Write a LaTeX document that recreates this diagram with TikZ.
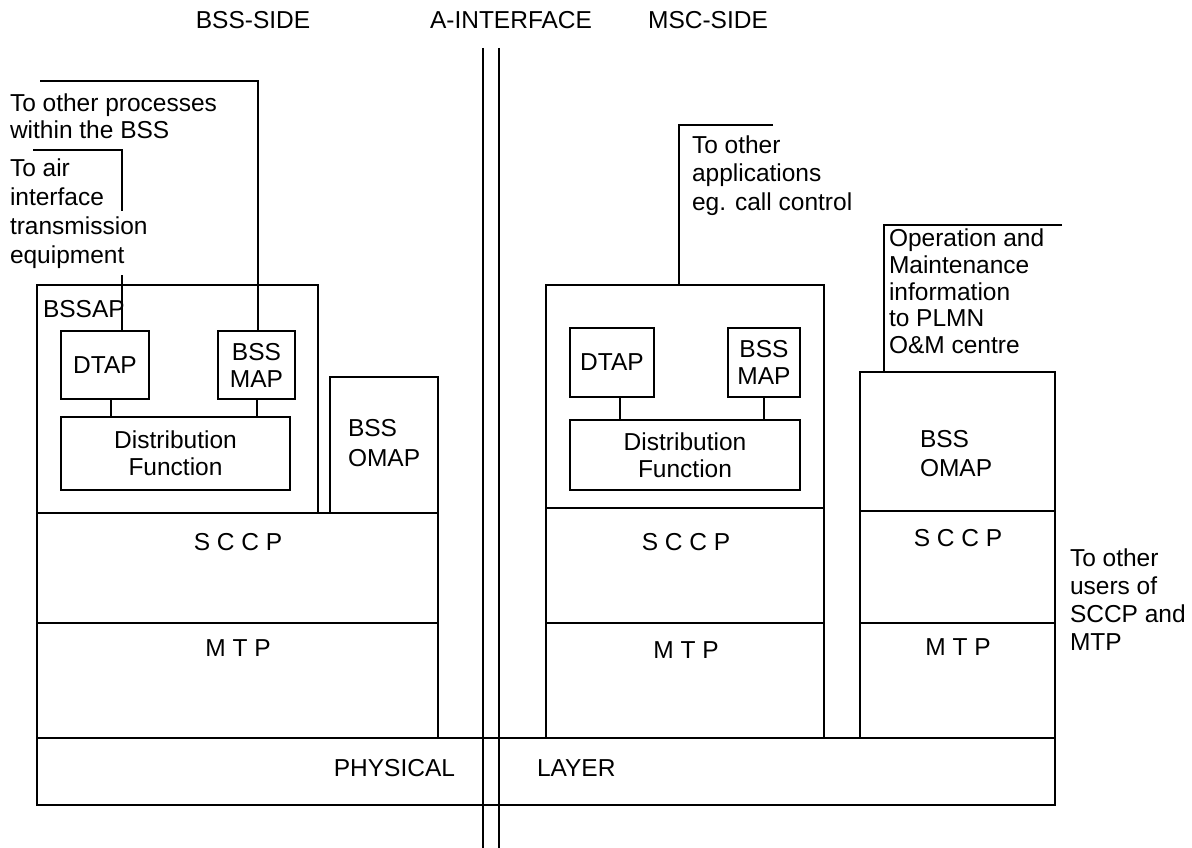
\documentclass[tikz,border=0pt]{standalone}
\usepackage{fontspec}
\setmainfont{Liberation Sans}
\begin{document}
\begin{tikzpicture}[x=1pt,y=-1pt,
  lbl/.style={font=\fontsize{24.5}{28}\selectfont, inner sep=0pt, outer sep=0pt},
  txt/.style={lbl, align=left, anchor=base west},
  box/.style={draw, line width=1.4pt, inner sep=0pt, outer sep=0pt, anchor=north west,
              font=\fontsize{24.5}{27}\selectfont, align=center},
  frame/.style={draw, line width=1.4pt, inner sep=0pt, outer sep=0pt, anchor=north west},
  thickln/.style={line width=2.8pt},
  conn/.style={line width=2pt},
  iface/.style={line width=2.8pt}]
\useasboundingbox (0,0) rectangle (1192,848);

% top labels
\node[lbl, anchor=base] (bssside) at (253,28.5) {BSS-SIDE};
\node[lbl, anchor=base] (aif) at (511,28.5) {A-INTERFACE};
\node[lbl, anchor=base] (mscside) at (708,28.5) {MSC-SIDE};

% ---------- BSS side ----------
\node[frame, minimum width=281pt, minimum height=228pt] (bssapL) at (37,285) {};
\node[lbl, anchor=base west] (bssapLt) at (43,317.5) {BSSAP};
\node[box, minimum width=88pt, minimum height=68pt] (dtapL) at (61,331) {DTAP};
\node[box, minimum width=77pt, minimum height=68pt] (bssmapL) at (218,331) {BSS\\MAP};
\node[box, minimum width=229pt, minimum height=73pt] (distL) at (61,417) {Distribution\\Function};
\node[frame, minimum width=108pt, minimum height=136pt] (omapL) at (330,377) {};
\node[txt, font=\fontsize{24.5}{30}\selectfont] (omapLt) at (348,466.5) {BSS\\OMAP};
\node[frame, minimum width=401pt, minimum height=110pt] (sccpL) at (37,513) {};
\node[frame, minimum width=401pt, minimum height=115pt] (mtpL) at (37,623) {};
\node[lbl] (sccpLt) at (238,542) {S C C P};
\node[lbl] (mtpLt) at (238,648) {M T P};

% ---------- MSC side ----------
\node[frame, minimum width=278pt, minimum height=223pt] (bssapR) at (546,285) {};
\node[box, minimum width=84pt, minimum height=69pt] (dtapR) at (570,328) {DTAP};
\node[box, minimum width=72pt, minimum height=69pt] (bssmapR) at (728,328) {BSS\\MAP};
\node[box, minimum width=230pt, minimum height=70pt] (distR) at (570,420) {Distribution\\Function};
\node[frame, minimum width=278pt, minimum height=115pt] (sccpR) at (546,508) {};
\node[frame, minimum width=278pt, minimum height=115pt] (mtpR) at (546,623) {};
\node[lbl] (sccpRt) at (686,542) {S C C P};
\node[lbl] (mtpRt) at (686,650) {M T P};

\node[frame, minimum width=195pt, minimum height=139pt] (omapR) at (860,372) {};
\node[txt, font=\fontsize{24.5}{29}\selectfont] (omapRt) at (920,476.5) {BSS\\OMAP};
\node[frame, minimum width=195pt, minimum height=112pt] (sccpRR) at (860,511) {};
\node[frame, minimum width=195pt, minimum height=115pt] (mtpRR) at (860,623) {};
\node[lbl] (sccpRRt) at (958,538) {S C C P};
\node[lbl] (mtpRRt) at (958,647) {M T P};

% physical layer
\node[frame, minimum width=1018pt, minimum height=67pt] (phys) at (37,738) {};
\node[lbl, anchor=east] (physt) at (455,768) {PHYSICAL};
\node[lbl, anchor=west] (layert) at (537,768) {LAYER};

% thick layer lines
\draw[thickln] (sccpL.north west) -- (sccpL.north east) -- (mtpL.south east);
\draw[thickln] (mtpL.north west) -- (mtpL.north east);
\draw[thickln] (sccpR.north west) -- (sccpR.north east);
\draw[thickln] (mtpR.north west) -- (mtpR.north east);
\draw[thickln] (sccpRR.north west) -- (sccpRR.north east);
\draw[thickln] (mtpRR.north west) -- (mtpRR.north east);
\draw[thickln] (phys.north west) -- (phys.north east);

% internal connectors
\coordinate (xl1) at (111,0);
\coordinate (xl2) at (257,0);
\coordinate (xr1) at (620,0);
\coordinate (xr2) at (764,0);
\draw[conn] (dtapL.south -| xl1) -- (distL.north -| xl1);
\draw[conn] (bssmapL.south -| xl2) -- (distL.north -| xl2);
\draw[conn] (dtapR.south -| xr1) -- (distR.north -| xr1);
\draw[conn] (bssmapR.south -| xr2) -- (distR.north -| xr2);

% external labels and leader lines (BSS side)
\node[txt, font=\fontsize{24.5}{27}\selectfont] (procs) at (10,138.5) {To other processes\\within the BSS};
\node[txt, font=\fontsize{24.5}{29}\selectfont] (air) at (10,263.5) {To air\\interface\\transmission\\equipment};
\coordinate (pa) at (40,81);
\coordinate (pb) at (258,81);
\draw[conn] (pa) -- (pb) -- (bssmapL.north -| pb);
\coordinate (aa) at (33,150);
\coordinate (ab) at (122,150);
\coordinate (ac) at (122,211);
\coordinate (ad) at (122,275);
\draw[conn] (aa) -- (ab) -- (ac);
\draw[conn] (ad) -- (dtapL.north -| ad);

% MSC side leaders
\node[txt, font=\fontsize{24.5}{28.5}\selectfont] (apps) at (692,210.5) {To other\\applications\\eg. call control};
\coordinate (ma) at (773,125);
\coordinate (mb) at (679,125);
\draw[conn] (ma) -- (mb) -- (bssapR.north -| mb);

\node[txt, font=\fontsize{24.5}{26.75}\selectfont] (oam) at (889,353.5) {Operation and\\Maintenance\\information\\to PLMN\\O\&M centre};
\coordinate (oa) at (1062,225);
\coordinate (ob) at (884,225);
\draw[conn] (oa) -- (ob) -- (omapR.north -| ob);

\node[txt] (users) at (1070,650.5) {To other\\users of\\SCCP and\\MTP};

% A-interface
\coordinate (i1t) at (483,48);
\coordinate (i1b) at (483,848);
\coordinate (i2t) at (499,48);
\coordinate (i2b) at (499,848);
\draw[iface] (i1t) -- (i1b);
\draw[iface] (i2t) -- (i2b);
\end{tikzpicture}
\end{document}
